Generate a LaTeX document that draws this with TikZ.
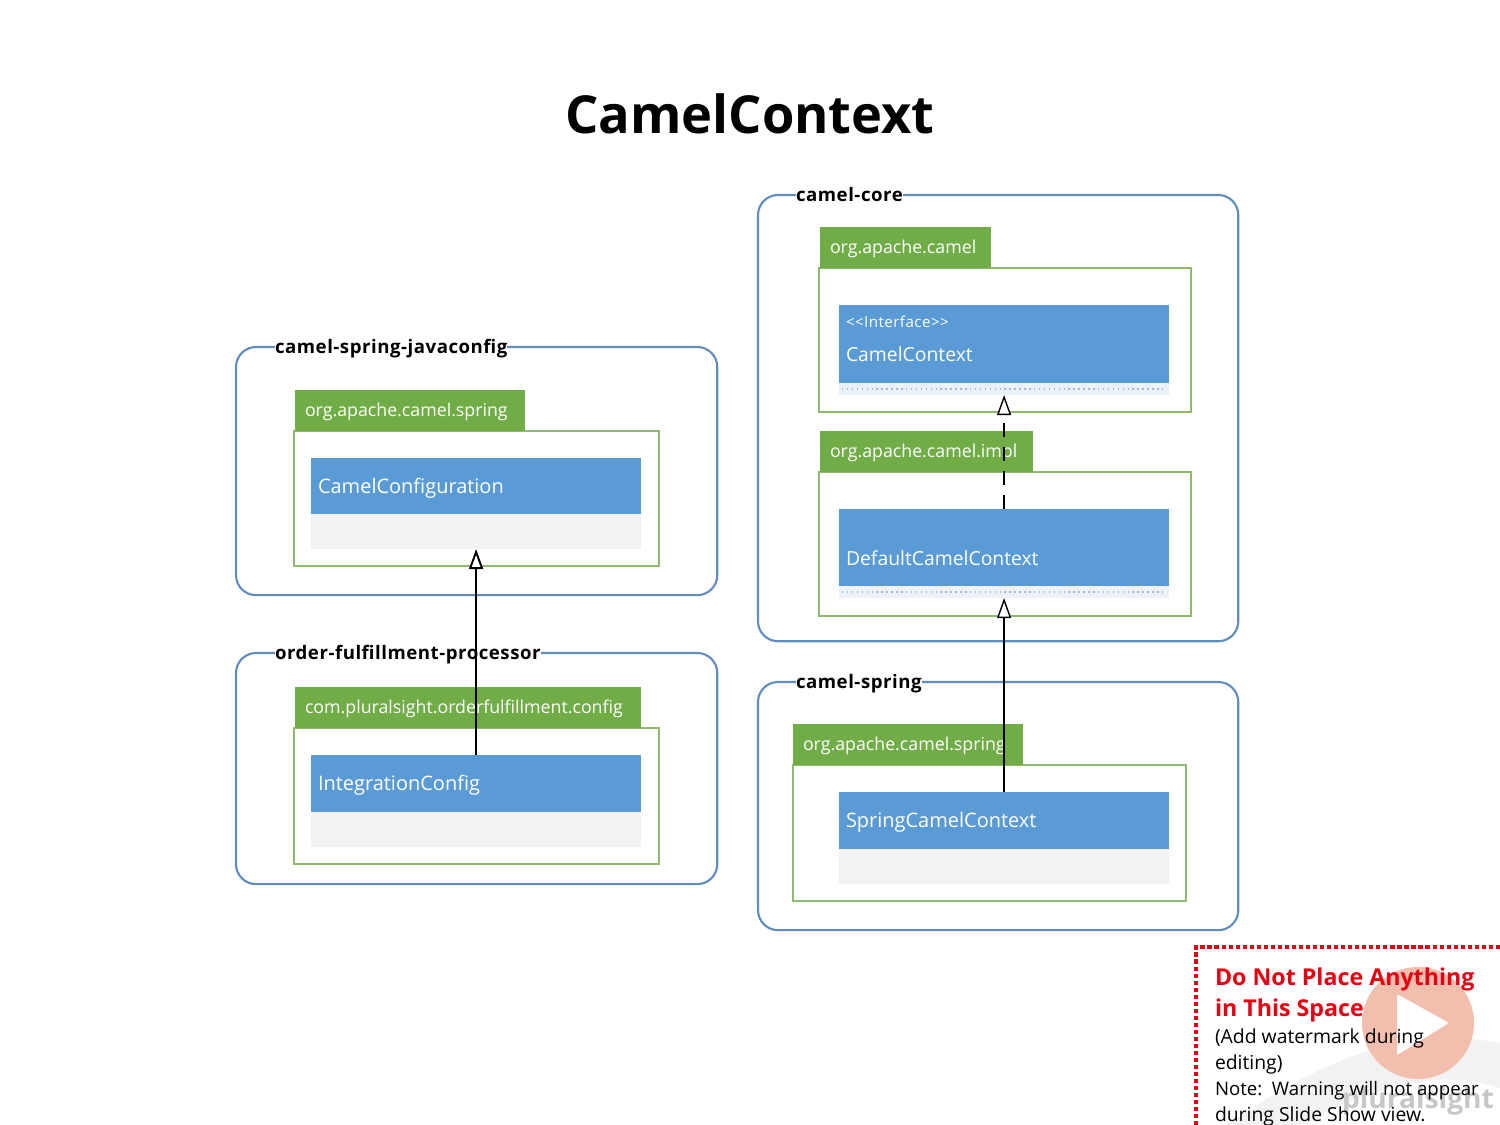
\documentclass[tikz,border=0pt]{standalone}
\usepackage{fontspec}
\setmainfont{Open Sans}
\usetikzlibrary{arrows.meta, positioning}
\definecolor{cblue}{HTML}{5B9BD5}
\definecolor{cgreen}{HTML}{70AD47}
\definecolor{cgreenl}{HTML}{8FBB6E}
\definecolor{cframe}{HTML}{5F8DBD}
\definecolor{cstrip}{HTML}{EDF2F9}
\definecolor{cdots}{HTML}{9DB7DC}
\definecolor{cgrey}{HTML}{F2F2F2}
\definecolor{cred}{HTML}{E60012}
\definecolor{cplay}{HTML}{F2BFAF}
\tikzset{
  every node/.style={outer sep=0pt},
  frm/.style={draw=cframe, line width=0.6pt, rounded corners=0.2cm, anchor=north west, inner sep=0pt},
  frmtitle/.style={fill=white, anchor=west, inner xsep=0pt, inner ysep=0pt, yshift=-0.02cm, text height=0.14cm, text depth=0.045cm, font=\bfseries\fontsize{5.3}{6}\selectfont\addfontfeature{LetterSpace=2.8}},
  pkg/.style={draw=cgreenl, line width=0.45pt, anchor=north west, inner sep=0pt},
  pkgtab/.style={fill=cgreen, text=white, text width=#1, align=left, minimum height=0.41cm, text height=0.15cm, text depth=0.03cm, inner xsep=0.1cm, inner ysep=0pt, font=\fontsize{5.05}{6}\selectfont},
  cls/.style={fill=cblue, text=white, anchor=north west, minimum width=3.3cm, inner sep=0pt, text width=3.16cm, align=left, text height=0.17cm, text depth=0.03cm, font=\fontsize{5.68}{6.5}\selectfont},
  lower/.style={fill=#1, minimum width=3.3cm, inner sep=0pt},
  lbl/.style={text=white, anchor=base west, inner sep=0pt, font=\fontsize{5.5}{6.5}\selectfont},
  realize/.style={-{Triangle[open, fill=white, length=0.2cm, width=0.14cm]}, draw=black, line width=0.4pt},
}
\begin{document}
\begin{tikzpicture}[x=0.01cm, y=0.01cm]
  \clip (0,0) rectangle (1500,-1125);
  \fill[white] (0,0) rectangle (1500,-1125);
  \node[font=\bfseries\fontsize{14.9}{17}\selectfont] (title) at (750,-114) {CamelContext};
  % watermark behind the warning text
  \fill[cgrey] (1225,-1125) .. controls (1290,-1085) and (1380,-1020) .. (1500,-1043) -- (1500,-1088) .. controls (1420,-1060) and (1330,-1110) .. (1300,-1125) -- cycle;
  \node[text=black!22, font=\bfseries\fontsize{8}{9}\selectfont] (brand) at (1418,-1101) {pluralsight};
  \node[circle, fill=cplay, minimum size=1.12cm, inner sep=0pt] (play) at (1418,-1023) {};
  \fill[white, rounded corners=0.02cm] (1397,-994) -- (1449,-1023) -- (1397,-1055) -- cycle;
  % warning
  \coordinate (warnr) at (1500,-947);
  \coordinate (warnc) at (1196,-947);
  \coordinate (warnb) at (1196,-1125);
  \draw[cred, line width=1.4pt, dash pattern=on 1.2pt off 0.8pt] (warnr) -- (warnc) -- (warnb);
  \node[text=cred, anchor=north west, inner sep=0pt, align=left, font=\bfseries\fontsize{6.6}{8.85}\selectfont] (warnhead) at (1215,-968) {Do Not Place Anything\\in This Space};
  \node[anchor=north west, inner sep=0pt, align=left, font=\fontsize{5.5}{7.35}\selectfont] (warnbody) at (1215,-1029) {(Add watermark during\\editing)\\{\fontsize{5.3}{7.35}\selectfont Note:\ \ Warning will not appear}\\during Slide Show view.};
  % camel-spring-javaconfig
  \node[frm, minimum width=4.81cm, minimum height=2.48cm] (javacfgfrm) at (236,-347) {};
  \node[frmtitle] (javacfgttl) at ([xshift=0.39cm]javacfgfrm.north west) {camel-spring-javaconfig};
  \node[pkg, minimum width=3.65cm, minimum height=1.35cm] (springpkg) at (294,-431) {};
  \node[pkgtab=2.1cm, above right=0pt and 0.01cm of springpkg.north west] (springtab) {org.apache.camel.spring};
  \node[cls, minimum height=0.56cm] (camelcfg) at (311,-458) {CamelConfiguration};
  \node[lower=cgrey, minimum height=0.35cm, below=0pt of camelcfg] (camelcfglow) {};
  % order-fulfillment-processor
  \node[frm, minimum width=4.81cm, minimum height=2.31cm] (orderfrm) at (236,-653) {};
  \node[frmtitle] (orderttl) at ([xshift=0.39cm]orderfrm.north west) {order-fulfillment-processor};
  \node[pkg, minimum width=3.65cm, minimum height=1.36cm] (orderpkg) at (294,-728) {};
  \node[pkgtab=3.26cm, above right=0pt and 0.01cm of orderpkg.north west] (ordertab) {com.pluralsight.orderfulfillment.config};
  \node[cls, minimum height=0.57cm] (intcfg) at (311,-755) {IntegrationConfig};
  \node[lower=cgrey, minimum height=0.35cm, below=0pt of intcfg] (intcfglow) {};
  % camel-core
  \node[frm, minimum width=4.8cm, minimum height=4.46cm] (corefrm) at (758,-195) {};
  \node[frmtitle] (corettl) at ([xshift=0.38cm]corefrm.north west) {camel-core};
  \node[pkg, minimum width=3.72cm, minimum height=1.44cm] (apachepkg) at (819,-268) {};
  \node[pkgtab=1.51cm, above right=0pt and 0.01cm of apachepkg.north west] (apachetab) {org.apache.camel};
  \node[cls, minimum height=0.78cm] (iface) at (839,-305) {};
  \node[lbl, font=\fontsize{4.3}{5}\selectfont\addfontfeature{LetterSpace=3}] (ifacest) at (846,-328) {<{}<Interface>{}>};
  \node[lbl] (ifacename) at (846,-362) {CamelContext};
  \node[lower=cstrip, minimum height=0.12cm, below=0pt of iface] (ifacelow) {};
  \draw[cdots, line width=0.4pt, densely dotted, shorten <=0.03cm, shorten >=0.03cm] (ifacelow.west) -- (ifacelow.east);
  \node[pkg, minimum width=3.72cm, minimum height=1.44cm] (implpkg) at (819,-472) {};
  \node[pkgtab=1.93cm, above right=0pt and 0.01cm of implpkg.north west] (impltab) {org.apache.camel.impl};
  \node[cls, minimum height=0.77cm] (defctx) at (839,-509) {};
  \node[lbl] (defctxname) at (846,-566) {DefaultCamelContext};
  \node[lower=cstrip, minimum height=0.12cm, below=0pt of defctx] (defctxlow) {};
  \draw[cdots, line width=0.4pt, densely dotted, shorten <=0.03cm, shorten >=0.03cm] (defctxlow.west) -- (defctxlow.east);
  % camel-spring
  \node[frm, minimum width=4.8cm, minimum height=2.48cm] (springfrm) at (758,-682) {};
  \node[frmtitle] (springttl) at ([xshift=0.38cm]springfrm.north west) {camel-spring};
  \node[pkg, minimum width=3.93cm, minimum height=1.36cm] (spkg) at (793,-765) {};
  \node[pkgtab=2.1cm, above right=0pt and 0cm of spkg.north west] (stab) {org.apache.camel.spring};
  \node[cls, minimum height=0.57cm] (springctx) at (839,-792) {SpringCamelContext};
  \node[lower=cgrey, minimum height=0.35cm, below=0pt of springctx] (springctxlow) {};
  % realizations
  \draw[realize, line width=0.55pt] (intcfg.north) -- (camelcfglow.south);
  \draw[realize, dash pattern=on 0.14cm off 0.1cm] (defctx.north) -- (ifacelow.south);
  \draw[realize] (springctx.north) -- (defctxlow.south);
\end{tikzpicture}
\end{document}
